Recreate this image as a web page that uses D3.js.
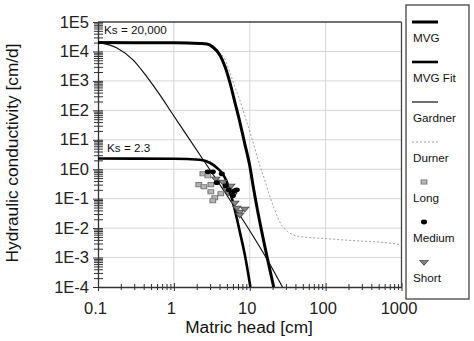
<!DOCTYPE html>
<html>
<head>
<meta charset="utf-8">
<script src="https://cdn.jsdelivr.net/npm/d3@7"></script>
<style>
  html, body { margin: 0; padding: 0; background: #fff; }
  svg { display: block; font-family: "Liberation Sans", Arial, sans-serif; }
</style>
</head>
<body>
<svg id="chart" width="474" height="341"></svg>
<script>
// Hydraulic conductivity K [cm/d] against matric head h [cm], log-log.

// Axis ticks
const xTickValues = [0.1, 1, 10, 100, 1000];
const xTickLabels = ["0.1", "1", "10", "100", "1000"];
const yTickValues = [1e5, 1e4, 1e3, 1e2, 1e1, 1e0, 1e-1, 1e-2, 1e-3, 1e-4];
const yTickLabels = ["1E5", "1E4", "1E3", "1E2", "1E1", "1E0", "1E-1", "1E-2", "1E-3", "1E-4"];

// Model curves: [h, K]
const mvg = [
  [0.1, 20000], [1, 19700], [2.2, 18700], [2.72, 17960], [3.26, 14200], [4.03, 7600],
  [4.69, 3220], [5.45, 925], [6.35, 194], [7.39, 40.7], [8.6, 7.3], [10.0, 1.31],
  [11.3, 0.2], [20.7, 1e-4]
];
const mvgFit = [
  [0.1, 2.3], [1, 2.28], [2.2, 2.1], [2.98, 1.66], [3.68, 1.12], [4.28, 0.76],
  [4.98, 0.377], [5.45, 0.187], [6.35, 0.0424], [7.39, 0.0076], [8.6, 0.00126], [10.2, 1e-4]
];
const gardner = [
  [0.1, 20000], [0.178, 13150], [0.289, 5150], [0.441, 1370], [0.654, 335],
  [0.97, 72], [2.2, 3.1], [19.5, 4.6e-4], [27, 1e-4]
];
const durner = [
  [0.1, 20000], [1, 19700], [2.2, 18700], [2.72, 17960], [3.26, 14200], [4.03, 8890],
  [4.69, 5570], [5.45, 2020], [6.35, 627], [7.39, 227], [8.6, 65], [10.6, 11.7],
  [13.5, 1.42], [15.7, 0.44], [18.3, 0.126], [21.3, 0.042], [24.8, 0.0166],
  [31.6, 0.0076], [45.5, 0.0052], [103, 0.0044], [226, 0.00377], [513, 0.00335],
  [1000, 0.00276]
];

// Measured points: [h, K]
const longData = [
  [2.41, 0.70], [2.80, 0.60], [2.13, 0.30], [2.48, 0.255], [3.07, 0.30],
  [3.07, 0.173], [3.46, 0.108], [3.26, 0.0855], [4.15, 0.148]
];
const mediumData = [
  [2.80, 0.82], [3.26, 0.82], [3.68, 0.35], [4.28, 0.70], [4.83, 0.276],
  [5.29, 0.20], [5.80, 0.16], [6.35, 0.187], [6.75, 0.20], [5.98, 0.126]
];
const shortData = [
  [3.57, 0.476], [4.41, 0.377], [4.98, 0.218], [5.62, 0.276], [5.29, 0.16],
  [5.98, 0.137], [6.35, 0.073], [6.75, 0.0495], [7.39, 0.0362], [8.6, 0.0458],
  [7.39, 0.0287]
];

const legendNames = ["MVG", "MVG Fit", "Gardner", "Durner", "Long", "Medium", "Short"];
const ksLabels = ["Ks = 20,000", "Ks = 2.3"];

const svg = d3.select("#chart");
const plotLeft = 98, plotRight = 401.5, plotTop = 22, plotBottom = 287;

const x = d3.scaleLog().domain([0.1, 1000]).range([plotLeft, plotRight]);
const y = d3.scaleLog().domain([1e-4, 1e5]).range([plotBottom, plotTop]);

svg.append("defs").append("clipPath").attr("id", "plotClip")
  .append("rect").attr("x", plotLeft).attr("y", plotTop)
  .attr("width", plotRight - plotLeft).attr("height", plotBottom - plotTop);

// Gridlines at each decade
const grid = svg.append("g").attr("stroke", "#d6d6d6").attr("stroke-width", 1);
xTickValues.slice(1, -1).forEach(v => {
  grid.append("line").attr("x1", x(v)).attr("x2", x(v)).attr("y1", plotTop).attr("y2", plotBottom);
});
yTickValues.slice(1, -1).forEach(v => {
  grid.append("line").attr("x1", plotLeft).attr("x2", plotRight).attr("y1", y(v)).attr("y2", y(v));
});

// Minor ticks (2..9 in each decade)
const minorX = [];
for (let e = -1; e < 3; e++) for (let m = 2; m <= 9; m++) minorX.push(m * Math.pow(10, e));
const minorY = [];
for (let e = -4; e < 5; e++) for (let m = 2; m <= 9; m++) minorY.push(m * Math.pow(10, e));

const xMinorAxis = svg.append("g").attr("transform", `translate(0,${plotBottom})`)
  .call(d3.axisBottom(x).tickValues(minorX).tickFormat("").tickSizeOuter(0));
xMinorAxis.select(".domain").remove();
xMinorAxis.selectAll(".tick line").attr("y1", -3).attr("y2", 3).attr("stroke", "#333");

const yMinorAxis = svg.append("g").attr("transform", `translate(${plotLeft},0)`)
  .call(d3.axisLeft(y).tickValues(minorY).tickFormat("").tickSizeOuter(0));
yMinorAxis.select(".domain").remove();
yMinorAxis.selectAll(".tick line").attr("x1", -4).attr("x2", 5).attr("stroke", "#333");

// Major axes with labels
const xAxis = svg.append("g").attr("transform", `translate(0,${plotBottom})`)
  .call(d3.axisBottom(x).tickValues(xTickValues)
    .tickFormat((d, i) => xTickLabels[i]).tickSizeOuter(0));
xAxis.select(".domain").attr("stroke", "#333").attr("stroke-width", 1.3);
xAxis.selectAll(".tick line").attr("y1", -4).attr("y2", 4).attr("stroke", "#333");
xAxis.selectAll(".tick text").attr("y", 27).attr("dy", 0).attr("dx", -3)
  .attr("font-size", "16.5px").attr("fill", "#222")
  .attr("font-family", "'Liberation Sans', Arial, sans-serif");

const yAxis = svg.append("g").attr("transform", `translate(${plotLeft},0)`)
  .call(d3.axisLeft(y).tickValues(yTickValues)
    .tickFormat((d, i) => yTickLabels[i]).tickSizeOuter(0));
yAxis.select(".domain").attr("stroke", "#333").attr("stroke-width", 1.3);
yAxis.selectAll(".tick line").attr("x1", -5).attr("x2", 5).attr("stroke", "#333");
yAxis.selectAll(".tick text").attr("x", -9).attr("dy", "5px")
  .attr("font-size", "16.5px").attr("fill", "#222")
  .attr("font-family", "'Liberation Sans', Arial, sans-serif");

// Top and right frame
svg.append("line").attr("x1", plotLeft).attr("x2", plotRight).attr("y1", plotTop).attr("y2", plotTop)
  .attr("stroke", "#444").attr("stroke-width", 1.3);
svg.append("line").attr("x1", plotRight).attr("x2", plotRight).attr("y1", plotTop).attr("y2", plotBottom)
  .attr("stroke", "#444").attr("stroke-width", 1.3);

// Curves
const line = d3.line().x(d => x(d[0])).y(d => y(d[1])).curve(d3.curveMonotoneX);
const curves = svg.append("g").attr("clip-path", "url(#plotClip)").attr("fill", "none");

curves.append("path").datum(durner).attr("d", line)
  .attr("stroke", "#a0a0a0").attr("stroke-width", 1).attr("stroke-dasharray", "2,2");
curves.append("path").datum(gardner).attr("d", line)
  .attr("stroke", "#111").attr("stroke-width", 1.2);
curves.append("path").datum(mvg).attr("d", line)
  .attr("stroke", "#000").attr("stroke-width", 3);
curves.append("path").datum(mvgFit).attr("d", line)
  .attr("stroke", "#000").attr("stroke-width", 2.6);

// Markers
const squareSym = d3.symbol().type(d3.symbolSquare).size(24);
const circleSym = d3.symbol().type(d3.symbolCircle).size(22);
const triSym = d3.symbol().type(d3.symbolTriangle).size(18);

const pts = svg.append("g");
pts.selectAll(".long").data(longData).join("path").attr("class", "long")
  .attr("d", squareSym)
  .attr("transform", d => `translate(${x(d[0])},${y(d[1])}) scale(1.15,0.85)`)
  .attr("fill", "#b5b5b5").attr("stroke", "#7a7a7a").attr("stroke-width", 1);
pts.selectAll(".short").data(shortData).join("path").attr("class", "short")
  .attr("d", triSym)
  .attr("transform", d => `translate(${x(d[0])},${y(d[1])}) rotate(180) scale(1.3,0.85)`)
  .attr("fill", "#8a8a8a").attr("stroke", "#4a4a4a").attr("stroke-width", 0.8);
pts.selectAll(".medium").data(mediumData).join("path").attr("class", "medium")
  .attr("d", circleSym)
  .attr("transform", d => `translate(${x(d[0])},${y(d[1])}) scale(1.15,0.9)`)
  .attr("fill", "#000");

// Ks annotations
const annot = svg.append("g").attr("font-size", "11.7px").attr("fill", "#111");
annot.append("text").attr("x", 104).attr("y", 34).text(ksLabels[0]);
annot.append("text").attr("x", 107).attr("y", 152).text(ksLabels[1]);

// Axis titles
svg.append("text").attr("x", 249).attr("y", 333).attr("text-anchor", "middle")
  .attr("font-size", "17.3px").attr("fill", "#111").text("Matric head [cm]");
svg.append("text").attr("transform", "translate(18,153) rotate(-90)")
  .attr("text-anchor", "middle").attr("font-size", "17.3px").attr("fill", "#111")
  .text("Hydraulic conductivity [cm/d]");

// Legend
const lg = svg.append("g");
lg.append("rect").attr("x", 406).attr("y", 5).attr("width", 63).attr("height", 294)
  .attr("fill", "#fff").attr("stroke", "#444").attr("stroke-width", 1.3);
const lgX = 412, lgStep = 40;
const lineStyles = [
  { w: 3, c: "#000", dash: null },
  { w: 2.6, c: "#000", dash: null },
  { w: 1.2, c: "#111", dash: null },
  { w: 1, c: "#a0a0a0", dash: "2,2" }
];
legendNames.forEach((name, i) => {
  const yl = 22 + i * lgStep;
  if (i < 4) {
    const s = lineStyles[i];
    lg.append("line").attr("x1", lgX).attr("x2", lgX + 26).attr("y1", yl).attr("y2", yl)
      .attr("stroke", s.c).attr("stroke-width", s.w).attr("stroke-dasharray", s.dash);
  } else if (i === 4) {
    lg.append("path").attr("d", squareSym)
      .attr("transform", `translate(424,${yl}) scale(1.15,0.85)`)
      .attr("fill", "#b5b5b5").attr("stroke", "#7a7a7a").attr("stroke-width", 1);
  } else if (i === 5) {
    lg.append("path").attr("d", circleSym)
      .attr("transform", `translate(424,${yl}) scale(1.15,0.9)`).attr("fill", "#000");
  } else {
    lg.append("path").attr("d", triSym)
      .attr("transform", `translate(424,${yl}) rotate(180) scale(1.3,0.85)`)
      .attr("fill", "#8a8a8a").attr("stroke", "#4a4a4a").attr("stroke-width", 0.8);
  }
  lg.append("text").attr("x", lgX + 1).attr("y", yl + 20)
    .attr("font-size", "11.7px").attr("fill", "#111").text(name);
});
</script>
</body>
</html>
